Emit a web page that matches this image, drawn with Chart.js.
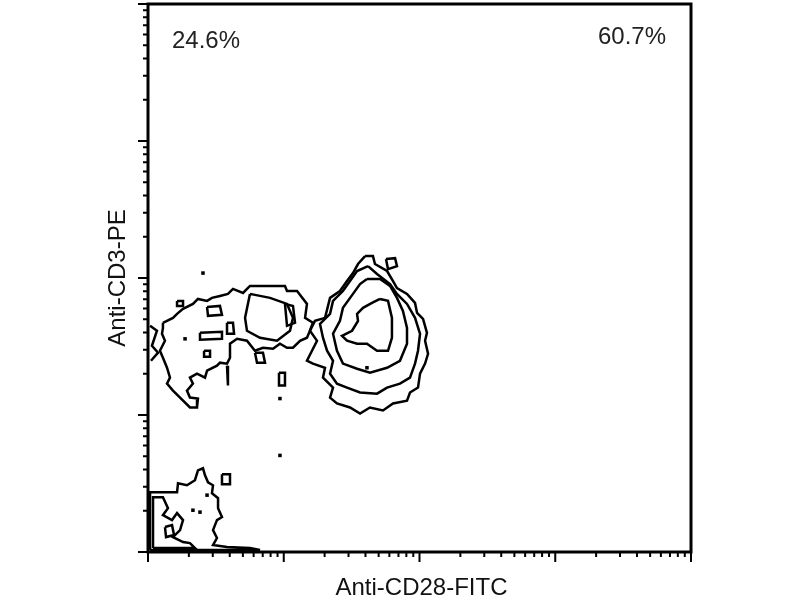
<!DOCTYPE html>
<html>
<head>
<meta charset="utf-8">
<script src="https://cdn.jsdelivr.net/npm/chart.js@4/dist/chart.umd.min.js"></script>
<style>
html,body{margin:0;padding:0;background:#fff;}
#wrap{width:800px;height:600px;}
</style>
</head>
<body>
<div id="wrap"><canvas id="c" width="800" height="600"></canvas></div>
<script>
// ---- Axis / text definitions (values in log10 decades) ----
const majorDecades = [0, 1, 2, 3, 4];
const minorSteps = [2, 3, 4, 5, 6, 7, 8, 9];
const xAxisTitle = 'Anti-CD28-FITC';
const yAxisTitle = 'Anti-CD3-PE';
const quadrantLabels = ['24.6%', '60.7%'];

// ---- Contour data: [log10 CD28, log10 CD3] ----
const doubleNegOuter = [[0.015,0.015],[0.015,0.436],[0.125,0.436],[0.214,0.436],[0.221,0.502],[0.287,0.487],[0.346,0.524],[0.368,0.596],[0.405,0.611],[0.420,0.560],[0.442,0.509],[0.479,0.487],[0.471,0.429],[0.516,0.393],[0.516,0.320],[0.545,0.255],[0.508,0.233],[0.479,0.160],[0.508,0.102],[0.479,0.051],[0.582,0.036],[0.751,0.029],[0.825,0.015]];
const doubleNegInner = [[0.037,0.029],[0.037,0.400],[0.110,0.400],[0.147,0.320],[0.110,0.269],[0.177,0.233],[0.214,0.284],[0.258,0.233],[0.236,0.160],[0.184,0.109],[0.258,0.073],[0.309,0.065],[0.346,0.029]];
const doubleNegCore = [[0.125,0.182],[0.177,0.196],[0.192,0.124],[0.133,0.109]];
const doubleNegIsland = [[0.545,0.567],[0.604,0.567],[0.604,0.495],[0.545,0.495]];

const cd3PosOuter = [[0.110,1.673],[0.184,1.709],[0.214,1.738],[0.258,1.775],[0.331,1.811],[0.368,1.847],[0.435,1.833],[0.471,1.855],[0.530,1.869],[0.589,1.884],[0.626,1.920],[0.700,1.891],[0.751,1.942],[1.009,1.942],[1.024,1.905],[1.098,1.905],[1.171,1.811],[1.157,1.709],[1.215,1.673],[1.193,1.615],[1.171,1.564],[1.120,1.542],[1.068,1.491],[1.024,1.491],[0.972,1.520],[0.921,1.484],[0.847,1.491],[0.788,1.469],[0.729,1.542],[0.656,1.556],[0.604,1.520],[0.604,1.418],[0.582,1.375],[0.530,1.382],[0.508,1.360],[0.435,1.324],[0.420,1.273],[0.361,1.302],[0.309,1.273],[0.331,1.229],[0.287,1.178],[0.309,1.127],[0.368,1.120],[0.361,1.055],[0.309,1.055],[0.236,1.127],[0.184,1.178],[0.140,1.229],[0.162,1.273],[0.140,1.345],[0.110,1.418],[0.088,1.469],[0.125,1.542],[0.103,1.593],[0.110,1.636]];
const cd3PosMid = [[0.751,1.884],[0.899,1.855],[1.024,1.811],[1.068,1.709],[1.046,1.615],[0.950,1.542],[0.825,1.564],[0.729,1.615],[0.715,1.709]];
const cd3PosIslandA = [[1.009,1.811],[1.068,1.796],[1.083,1.673],[1.024,1.651]];
const cd3PosIslandB = [[0.435,1.789],[0.530,1.796],[0.545,1.731],[0.442,1.724]];
const cd3PosIslandC = [[0.383,1.600],[0.545,1.607],[0.545,1.556],[0.383,1.549]];
const cd3PosIslandD = [[0.582,1.673],[0.626,1.673],[0.634,1.593],[0.582,1.593]];
const cd3PosIslandE = [[0.413,1.469],[0.457,1.469],[0.457,1.425],[0.413,1.425]];
const cd3PosIslandF = [[0.214,1.833],[0.258,1.833],[0.258,1.796],[0.214,1.796]];
const cd3PosIslandG = [[0.788,1.455],[0.847,1.455],[0.862,1.382],[0.803,1.382]];
const cd3PosEdge = [[0.015,1.651],[0.066,1.615],[0.029,1.505],[0.074,1.455],[0.022,1.396]];
const cd3PosStreak = [[0.582,1.360],[0.589,1.215]];
const strayRect = [[0.965,1.309],[1.009,1.309],[1.009,1.215],[0.965,1.215]];

const doublePosOuter = [[1.599,2.160],[1.657,2.160],[1.672,2.102],[1.761,2.051],[1.805,1.978],[1.834,1.927],[1.908,1.884],[1.967,1.818],[1.982,1.745],[2.026,1.702],[2.055,1.600],[2.041,1.542],[2.063,1.447],[2.041,1.375],[2.004,1.302],[1.989,1.200],[1.930,1.164],[1.908,1.105],[1.805,1.084],[1.731,1.033],[1.635,1.055],[1.562,1.011],[1.488,1.055],[1.392,1.084],[1.341,1.127],[1.363,1.200],[1.289,1.273],[1.304,1.345],[1.215,1.375],[1.171,1.396],[1.208,1.469],[1.245,1.542],[1.193,1.615],[1.230,1.687],[1.304,1.709],[1.341,1.855],[1.414,1.905],[1.466,1.978],[1.510,2.036],[1.547,2.102]];
const doublePosSecond = [[1.621,2.087],[1.687,2.029],[1.783,1.956],[1.834,1.884],[1.908,1.811],[1.967,1.709],[2.004,1.593],[1.989,1.469],[1.967,1.375],[1.930,1.273],[1.856,1.229],[1.761,1.200],[1.687,1.156],[1.562,1.164],[1.466,1.200],[1.392,1.229],[1.341,1.302],[1.363,1.396],[1.319,1.469],[1.289,1.564],[1.267,1.665],[1.341,1.738],[1.363,1.833],[1.436,1.905],[1.488,1.978],[1.540,2.051]];
const doublePosThird = [[1.613,1.993],[1.709,1.993],[1.783,1.942],[1.834,1.855],[1.878,1.760],[1.908,1.636],[1.908,1.520],[1.856,1.396],[1.761,1.345],[1.635,1.309],[1.540,1.338],[1.436,1.375],[1.392,1.469],[1.363,1.593],[1.414,1.687],[1.436,1.782],[1.510,1.884],[1.562,1.956]];
const doublePosCore = [[1.709,1.847],[1.768,1.833],[1.797,1.709],[1.797,1.564],[1.768,1.469],[1.687,1.469],[1.613,1.520],[1.540,1.520],[1.466,1.542],[1.429,1.578],[1.503,1.615],[1.547,1.687],[1.540,1.738],[1.584,1.782],[1.650,1.818]];
const doublePosIsland = [[1.753,2.138],[1.820,2.145],[1.834,2.087],[1.768,2.065]];

const strayEvents = [[0.405,2.036],[0.972,0.705],[0.972,1.120],[0.331,0.305],[0.435,0.415],[0.383,0.291],[1.613,1.345],[0.273,1.556]];

// ---- Build datasets ----
const closedContours = [doubleNegOuter, doubleNegInner, doubleNegCore, doubleNegIsland,
  cd3PosOuter, cd3PosMid, cd3PosIslandA, cd3PosIslandB, cd3PosIslandC, cd3PosIslandD, cd3PosIslandE, cd3PosIslandF, cd3PosIslandG, strayRect,
  doublePosOuter, doublePosSecond, doublePosThird, doublePosCore, doublePosIsland];
const openContours = [cd3PosEdge, cd3PosStreak];

const lineStyle = {showLine:true, fill:false, borderColor:'#000', borderWidth:2.5, pointRadius:0, tension:0, borderJoinStyle:'miter'};
const datasets = [];
closedContours.forEach(c => datasets.push(Object.assign({data: c.concat([c[0]])}, lineStyle)));
openContours.forEach(c => datasets.push(Object.assign({data: c}, lineStyle)));
datasets.push({data: strayEvents, showLine:false, pointStyle:'rect', pointRadius:2.5, backgroundColor:'#000', borderColor:'#000', borderWidth:0});

const framePlugin = {
  id: 'frame',
  afterDraw(chart) {
    const ctx = chart.ctx, xs = chart.scales.x, ys = chart.scales.y;
    const x0 = xs.getPixelForValue(majorDecades[0]), x1 = xs.getPixelForValue(majorDecades[majorDecades.length-1]);
    const y0 = ys.getPixelForValue(majorDecades[0]), y1 = ys.getPixelForValue(majorDecades[majorDecades.length-1]);
    ctx.save();
    ctx.strokeStyle = '#000';
    ctx.lineWidth = 3;
    ctx.strokeRect(x0, y1, x1 - x0, y0 - y1);
    // tick marks
    ctx.lineWidth = 2;
    const tickList = [];
    majorDecades.forEach((d, i) => {
      tickList.push({v: d, major: true});
      if (i < majorDecades.length - 1) minorSteps.forEach(k => tickList.push({v: d + Math.log10(k), major: false}));
    });
    ctx.beginPath();
    tickList.forEach(t => {
      const len = t.major ? 10 : 5;
      const px = xs.getPixelForValue(t.v);
      ctx.moveTo(px, y0 - 1); ctx.lineTo(px, y0 + len);
      const py = ys.getPixelForValue(t.v);
      ctx.moveTo(x0 + 1, py); ctx.lineTo(x0 - len, py);
    });
    ctx.stroke();
    // titles
    ctx.fillStyle = '#111';
    ctx.font = '24px "Liberation Sans", Arial, sans-serif';
    ctx.textAlign = 'center';
    ctx.textBaseline = 'alphabetic';
    ctx.fillText(xAxisTitle, (x0 + x1) / 2 + 2, 595);
    ctx.save();
    ctx.translate(125, (y0 + y1) / 2);
    ctx.rotate(-Math.PI / 2);
    ctx.fillText(yAxisTitle, 0, 0);
    ctx.restore();
    // quadrant percentages
    ctx.fillStyle = '#222';
    ctx.textAlign = 'left';
    ctx.fillText(quadrantLabels[0], x0 + 24, y1 + 44);
    ctx.textAlign = 'right';
    ctx.fillText(quadrantLabels[1], x1 - 25, y1 + 40);
    ctx.restore();
  }
};

new Chart(document.getElementById('c'), {
  type: 'scatter',
  data: {datasets},
  options: {
    responsive: false,
    devicePixelRatio: 1,
    animation: false,
    layout: {padding: {left: 148, right: 109, top: 2, bottom: 48}},
    plugins: {legend: {display: false}, tooltip: {enabled: false}},
    scales: {
      x: {type: 'linear', min: 0, max: 4, display: false},
      y: {type: 'linear', min: 0, max: 4, display: false}
    }
  },
  plugins: [framePlugin]
});
</script>
</body>
</html>
